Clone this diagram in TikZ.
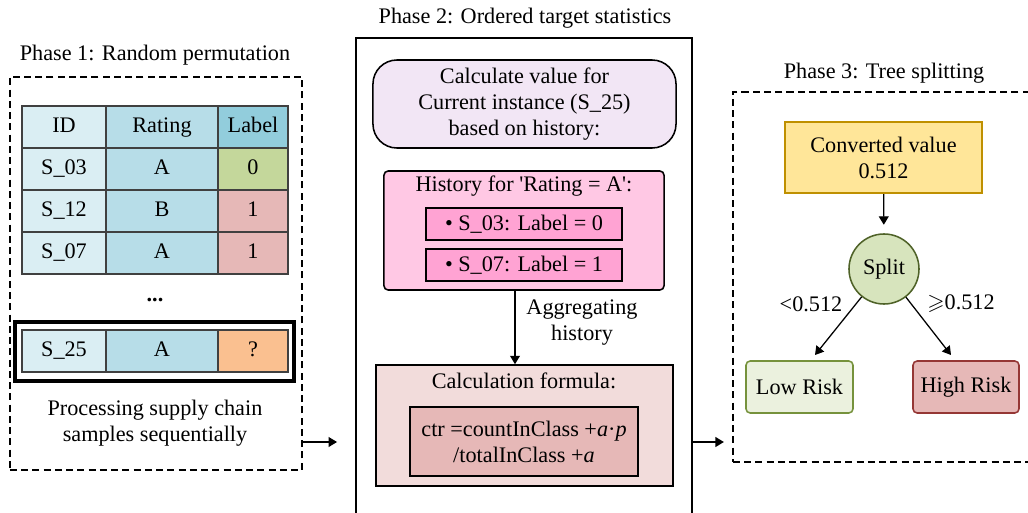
\documentclass[tikz,border=0pt]{standalone}
\usepackage{amssymb}
\usepackage{fontspec}
\setmainfont{Liberation Serif}
\newfontfamily\rawserif{Liberation Serif}
\usetikzlibrary{arrows.meta}

\definecolor{cellline}{HTML}{404040}
\definecolor{idc}{HTML}{DAEEF3}
\definecolor{ratc}{HTML}{B7DDE8}
\definecolor{labc}{HTML}{92CDDC}
\definecolor{greenc}{HTML}{C4D79B}
\definecolor{redc}{HTML}{E6B8B7}
\definecolor{orangec}{HTML}{FAC090}
\definecolor{lavc}{HTML}{F2E6F5}
\definecolor{pinkc}{HTML}{FFC8E4}
\definecolor{pinkd}{HTML}{FFA3D3}
\definecolor{formc}{HTML}{F2DCDB}
\definecolor{convc}{HTML}{FFE699}
\definecolor{convline}{HTML}{BF9000}
\definecolor{splitc}{HTML}{D7E4BD}
\definecolor{splitline}{HTML}{4F6228}
\definecolor{lowc}{HTML}{EBF1DE}
\definecolor{lowline}{HTML}{76923C}
\definecolor{highline}{HTML}{953735}

\begin{document}
\begin{tikzpicture}[x=0.025cm, y=-0.025cm, font=\fontsize{15.8}{18.5}\selectfont,
		cell/.style={draw=cellline, line width=1.1pt, inner sep=0pt, minimum height=1.05cm,
			text height=11pt, text depth=3pt},
		phase/.style={draw, line width=0.9pt, inner sep=0pt},
		longdash/.style={dash pattern=on 5pt off 3pt},
		box/.style={draw, line width=1.1pt, inner sep=0pt, align=center},
		arr/.style={-{Triangle[length=6pt,width=7pt]}, line width=0.9pt}]
	\useasboundingbox (0,0) rectangle (1028,513);
	\clip (0,0) rectangle (1028,513);
	% phase 1
	\node (t1) at (155,55) {Phase 1: Random permutation};
	\node[phase, longdash, minimum width=7.3cm, minimum height=9.825cm] (p1) at (156,273.5) {};
	\foreach \r/\y/\i/\g/\l/\lc in {h/127/ID/Rating/Label/labc, a/169/S\_03/A/0/greenc,
			b/211/S\_12/B/1/redc, c/253/S\_07/A/1/redc, d/351/S\_25/A/?/orangec} {
		\node[cell, fill=idc, minimum width=2.1cm] (id\r) at (64,\y) {\i};
		\node[cell, fill=ratc, minimum width=2.8cm] (rt\r) at (162,\y) {\g};
		\node[cell, fill=\lc, minimum width=1.75cm] (lb\r) at (253,\y) {\l};
	}
	\node[draw, line width=2.2pt, minimum width=6.975cm, minimum height=1.475cm] (cur) at (154.5,351.5) {};
	\node (dots) at (155,300) {\textbf{...}};
	\node[align=center] (proc) at (155,423) {Processing supply chain\\samples sequentially};
	% phase 2
	\node (t2) at (525,18) {Phase 2: Ordered target statistics};
	\node[phase, minimum width=8.4cm, minimum height=12.3cm] (p2) at (524,284) {};
	\node[box, fill=lavc, rounded corners=0.6cm, minimum width=7.575cm, minimum height=2.2cm] (calc) at (524.5,104)
		{Calculate value for\\Current instance (S\_25)\\based on history:};
	\node[box, fill=pinkc, rounded corners=3pt, minimum width=7cm, minimum height=2.975cm] (hist) at (524,230.5) {};
	\node (histt) at (524,186) {History for {\rawserif'}Rating = A{\rawserif'}:};
	\node[box, fill=pinkd, minimum width=4.9cm, minimum height=0.8cm] (h1) at (524,224) {• S\_03: Label = 0};
	\node[box, fill=pinkd, minimum width=4.9cm, minimum height=0.8cm] (h2) at (524,265) {• S\_07: Label = 1};
	\node[box, fill=formc, minimum width=7.425cm, minimum height=3.025cm] (form) at (524.5,425.5) {};
	\node (formt) at (524,381) {Calculation formula:};
	\node[box, fill=redc, minimum width=5.7cm, minimum height=1.725cm] (ctr) at (524,441.5)
		{ctr =countInClass +\textit{a}·\textit{p}\\/totalInClass +\textit{a}};
	\coordinate (aggs) at (515,290);
	\draw[arr] (aggs) -- (aggs |- form.north);
	\node[align=center] (agg) at (582,323) {Aggregating\\history};
	% phase 3
	\node (t3) at (884,73) {Phase 3: Tree splitting};
	\node[phase, longdash, minimum width=7.8cm, minimum height=9.25cm] (p3) at (889,277) {};
	\node[box, draw=convline, line width=1.6pt, fill=convc, minimum width=4.925cm, minimum height=1.775cm] (conv) at (883.5,157.5)
		{Converted value\\0.512};
	\node[circle, draw=splitline, line width=1.1pt, fill=splitc, minimum size=1.75cm, inner sep=0pt] (split) at (884,269) {Split};
	\node[box, draw=lowline, fill=lowc, rounded corners=3pt, minimum width=2.675cm, minimum height=1.3cm] (low) at (799.5,387) {Low Risk};
	\node[box, draw=highline, fill=redc, rounded corners=3pt, minimum width=2.65cm, minimum height=1.3cm] (high) at (966,387) {High Risk};
	\coordinate (lt) at (815,355);
	\coordinate (ht) at (951,355);
	\draw[arr, shorten >=6pt] (conv) -- (split);
	\draw[arr] (split) -- (lt);
	\draw[arr] (split) -- (ht);
	\node (lesslab) at (811,304) {<0.512};
	\node (geqlab) at (961,304) {$\geqslant$0.512};
	% between phases
	\draw[arr, shorten >=13pt] (p1.east |- 0,442) -- (p2.west |- 0,442);
	\draw[arr, shorten >=6pt] (p2.east |- 0,442) -- (p3.west |- 0,442);
\end{tikzpicture}
\end{document}
